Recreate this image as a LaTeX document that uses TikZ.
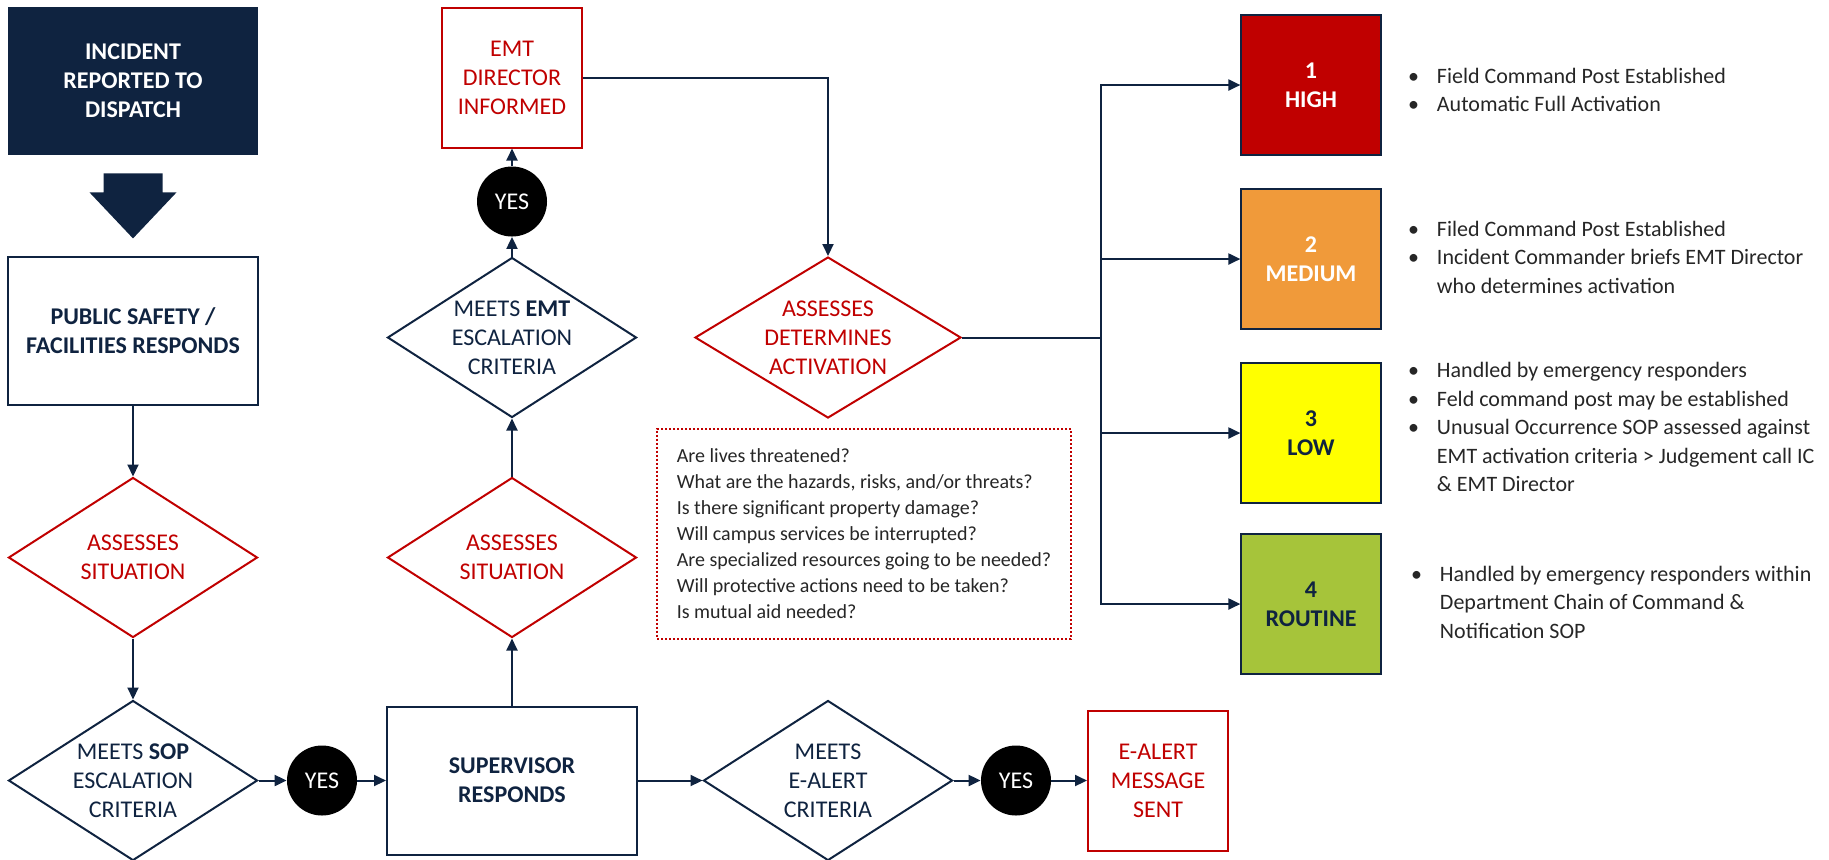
\documentclass[tikz,border=0pt]{standalone}
\usepackage{fontspec}
\setmainfont{Carlito}
\usetikzlibrary{shapes.geometric,arrows.meta,positioning}

\definecolor{navy}{RGB}{15,35,64}
\definecolor{alertred}{RGB}{192,0,0}
\definecolor{medorange}{RGB}{240,154,58}
\definecolor{lowyellow}{RGB}{255,255,0}
\definecolor{routinegreen}{RGB}{166,196,58}
\definecolor{notegray}{RGB}{38,38,38}

\newcommand{\boxfont}{\fontsize{12}{14.5}\selectfont}

\tikzstyle{dispatch} = [fill=navy, rectangle, text=white, align=center,
    minimum width=125pt, minimum height=74pt, font=\boxfont\bfseries]
\tikzstyle{block} = [draw=navy, line width=1pt, rectangle, text=navy, align=center,
    minimum width=125pt, minimum height=74pt, font=\boxfont\bfseries]
\tikzstyle{redblock} = [draw=alertred, line width=1pt, rectangle, text=alertred,
    align=center, minimum size=70pt, font=\boxfont]
\tikzstyle{decision} = [draw=navy, line width=1pt, diamond, text=navy, align=center,
    inner sep=-6pt, minimum width=124.5pt, minimum height=80pt, font=\boxfont]
\tikzstyle{reddecision} = [decision, draw=alertred, text=alertred]
\tikzstyle{yesdot} = [fill=black, circle, text=white, inner sep=0pt,
    minimum size=35pt, font=\boxfont]
\tikzstyle{level} = [draw=navy, line width=0.6pt, rectangle, align=center,
    minimum size=70pt, font=\boxfont\bfseries]
\tikzstyle{bullets} = [text=notegray, inner sep=0pt, font=\fontsize{11}{14.25}\selectfont]
\tikzstyle{questions} = [draw=alertred, densely dotted, line width=1pt, rectangle,
    text=notegray, align=left, inner xsep=7.5pt, minimum width=207pt,
    minimum height=105pt, font=\fontsize{10}{13}\selectfont]
\tikzstyle{junction} = [coordinate]
\tikzstyle{flow} = [draw=navy, line width=1pt, ->]

\begin{document}
\begin{tikzpicture}[auto, node distance=2cm, >={Triangle[length=6pt,width=5.5pt]}]
    \useasboundingbox (-66.5pt,40.5pt) rectangle (848pt,-389pt);

    \node [dispatch] (incident) {INCIDENT\\REPORTED TO\\DISPATCH};
    \node [block, below of=incident, node distance=124.75pt] (pubsafety) {PUBLIC SAFETY /\\FACILITIES RESPONDS};
    \node [reddecision, below of=pubsafety, node distance=113.5pt] (assess1) {ASSESSES\\SITUATION};
    \node [decision, below of=assess1, node distance=111.5pt] (sopcheck) {MEETS \textbf{SOP}\\ESCALATION\\CRITERIA};
    \node [yesdot, right of=sopcheck, node distance=94.5pt] (yes1) {YES};
    \node [block, right of=yes1, node distance=95pt] (supervisor) {SUPERVISOR\\RESPONDS};
    \node [reddecision, above of=supervisor, node distance=111.5pt] (assess2) {ASSESSES\\SITUATION};
    \node [decision, above of=assess2, node distance=110pt] (emtcheck) {MEETS \textbf{EMT}\\ESCALATION\\CRITERIA};
    \node [yesdot, above of=emtcheck, node distance=68pt] (yes2) {YES};
    \node [redblock, above of=yes2, node distance=62pt] (emtdirector) {EMT\\DIRECTOR\\INFORMED};
    \node [reddecision, right of=emtcheck, node distance=158pt,
        minimum width=133pt, minimum height=80.5pt] (activation) {ASSESSES\\DETERMINES\\ACTIVATION};
    \node [junction, right of=activation, node distance=136.5pt] (split) {};
    \node [questions, below of=activation, node distance=98pt, xshift=18pt] (questions) {Are lives threatened?\\
        What are the hazards, risks, and/or threats?\\
        Is there significant property damage?\\
        Will campus services be interrupted?\\
        Are specialized resources going to be needed?\\
        Will protective actions need to be taken?\\
        Is mutual aid needed?};
    \node [decision, right of=supervisor, node distance=158pt] (ealertcheck) {MEETS\\E-ALERT\\CRITERIA};
    \node [yesdot, right of=ealertcheck, node distance=94pt] (yes3) {YES};
    \node [redblock, right of=yes3, node distance=71pt] (ealertsent) {E-ALERT\\MESSAGE\\SENT};

    \node [level, fill=alertred, text=white] (high) at (589pt,-2pt) {1\\HIGH};
    \node [level, fill=medorange, text=white, below of=high, node distance=87pt] (medium) {2\\MEDIUM};
    \node [level, fill=lowyellow, text=navy, below of=medium, node distance=87pt] (low) {3\\LOW};
    \node [level, fill=routinegreen, text=navy, below of=low, node distance=85.5pt] (routine) {4\\ROUTINE};

    \node [bullets, right=13pt of high, yshift=-3.5pt] (highnotes) {\begin{tabular}{@{}l@{\hspace{9pt}}l@{}}
        \textbullet & Field Command Post Established\\
        \textbullet & Automatic Full Activation
        \end{tabular}};
    \node [bullets, right=13pt of medium] (mediumnotes) {\begin{tabular}{@{}l@{\hspace{9pt}}l@{}}
        \textbullet & Filed Command Post Established\\
        \textbullet & Incident Commander briefs EMT Director\\
                    & who determines activation
        \end{tabular}};
    \node [bullets, right=13pt of low, yshift=2pt] (lownotes) {\begin{tabular}{@{}l@{\hspace{9pt}}l@{}}
        \textbullet & Handled by emergency responders\\
        \textbullet & Feld command post may be established\\
        \textbullet & Unusual Occurrence SOP assessed against\\
                    & EMT activation criteria > Judgement call IC\\
                    & \& EMT Director
        \end{tabular}};
    \node [bullets, right=14.5pt of routine] (routinenotes) {\begin{tabular}{@{}l@{\hspace{9pt}}l@{}}
        \textbullet & Handled by emergency responders within\\
                    & Department Chain of Command \&\\
                    & Notification SOP
        \end{tabular}};

    \fill [navy, shift={(incident.south)}] (-14.75pt,-9pt) -- (14.75pt,-9pt) -- (14.75pt,-18.5pt)
        -- (21.75pt,-18.5pt) -- (0,-41.5pt) -- (-21.75pt,-18.5pt) -- (-14.75pt,-18.5pt) -- cycle;

    \draw [flow] (pubsafety) -- (assess1);
    \draw [flow] (assess1) -- (sopcheck);
    \draw [flow] (sopcheck) -- (yes1);
    \draw [flow] (yes1) -- (supervisor);
    \draw [flow] (supervisor) -- (assess2);
    \draw [flow] (assess2) -- (emtcheck);
    \draw [flow] (emtcheck) -- (yes2);
    \draw [flow] (yes2) -- (emtdirector);
    \draw [flow] (emtdirector) -| (activation);
    \draw [flow, -] (activation) -- (split);
    \draw [flow] (split) |- (high);
    \draw [flow] (split) |- (medium);
    \draw [flow] (split) |- (low);
    \draw [flow] (split) |- (routine);
    \draw [flow] (supervisor) -- (ealertcheck);
    \draw [flow] (ealertcheck) -- (yes3);
    \draw [flow] (yes3) -- (ealertsent);
\end{tikzpicture}
\end{document}
